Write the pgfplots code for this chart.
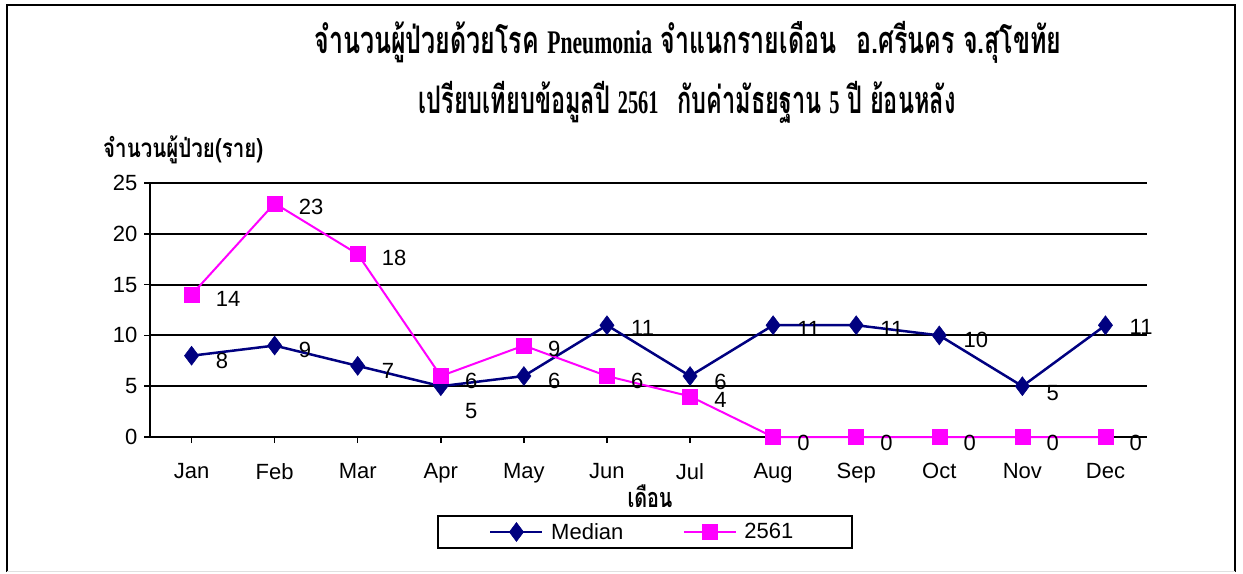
\documentclass[border=0pt]{standalone}
\usepackage{pgfplots}
\usepackage{pgfplotstable}
\pgfplotsset{compat=1.18}
\usepackage{fontspec}
\usepackage{graphicx}
\setmainfont{Liberation Sans}
\newfontfamily\thai[Script=Thai]{Loma}
\newfontfamily\lser{Liberation Serif}
\definecolor{navyc}{RGB}{0,0,128}
\definecolor{pinkc}{RGB}{255,0,255}

\pgfplotstableread{
x y dy
0 8 -5
1 9 -4
2 7 -5
3 5 -25
4 6 -5
5 11 -3
6 6 -6
7 11 -4
8 11 -4
9 10 -5
10 5 -7
11 11 -2
}\median

\pgfplotstableread{
x y dy
0 14 -4
1 23 -4
2 18 -4
3 6 -5
4 9 -3
5 6 -5
6 4 -4
7 0 -6
8 0 -6
9 0 -6
10 0 -6
11 0 -6
}\thisyear

\begin{document}
\begin{tikzpicture}
% page frame (1 px = 1 pt)
\path (0pt,0pt) rectangle (1243pt,572pt);
\draw[black, line width=2.5pt] (7pt,0pt) -- (7pt,567pt) -- (1235pt,567pt) -- (1235pt,0pt);
\draw[black!12, line width=1pt] (7pt,1pt) -- (1235pt,1pt);

% titles
\node[anchor=center, inner sep=0] at (688pt,530pt)
  {\resizebox{747pt}{\height}{\fontsize{38}{42}\selectfont\bfseries
   \thai จำนวนผู้ป่วยด้วยโรค {\lser\fontsize{33}{36}\selectfont Pneumonia} จำแนกรายเดือน\hspace{0.8em}อ.ศรีนคร จ.สุโขทัย}};
\node[anchor=center, inner sep=0] at (687pt,470pt)
  {\resizebox{537pt}{\height}{\fontsize{38}{42}\selectfont\bfseries
   \thai เปรียบเทียบข้อมูลปี {\lser\fontsize{33}{36}\selectfont 2561}\hspace{0.8em}กับค่ามัธยฐาน {\lser\fontsize{33}{36}\selectfont 5} ปี ย้อนหลัง}};
\node[anchor=west, inner sep=0] at (103pt,422pt)
  {\resizebox{160pt}{\height}{\fontsize{26}{30}\selectfont\bfseries\thai จำนวนผู้ป่วย(ราย)}};
\node[anchor=center, inner sep=0] at (650pt,76pt)
  {\resizebox{45pt}{\height}{\fontsize{27}{30}\selectfont\bfseries\thai เดือน}};

\begin{axis}[
  at={(150pt,135pt)}, anchor=south west,
  scale only axis, width=997pt, height=254pt,
  xmin=-0.5, xmax=11.5, ymin=0, ymax=25,
  clip=false,
  axis x line*=bottom, axis y line*=left,
  axis line style={-, black, line width=2pt},
  xtick={0,...,11},
  xticklabels={Jan,Feb,Mar,Apr,May,Jun,Jul,Aug,Sep,Oct,Nov,Dec},
  ytick={0,5,...,25},
  tick align=outside,
  major tick length=6pt,
  tick style={black, line width=1.5pt},
  ymajorgrids,
  grid style={black, line width=2pt},
  /pgf/number format/assume math mode=true,
  tick label style={font=\fontsize{22}{25}\selectfont},
  xticklabel style={yshift=-17pt},
  yticklabel style={xshift=-3pt},
  legend style={at={(0.4965,-0.374)}, anchor=center, legend columns=2,
    draw=black, line width=1.8pt, inner xsep=51pt, inner ysep=5pt,
    font=\fontsize{22}{25}\selectfont,
    nodes={inner xsep=7.5pt},
    /tikz/every even column/.append style={column sep=52pt}},
  legend image code/.code={%
    \draw[mark repeat=2, mark phase=2] plot coordinates {(0pt,0pt) (26pt,0pt) (52pt,0pt)};},
  nodes near coords,
  visualization depends on={\thisrow{dy}\as\dy},
  every node near coord/.append style={anchor=west, inner sep=0pt, xshift=24pt, yshift=\dy pt,
    font=\fontsize{22}{25}\selectfont, black},
]
\addplot[navyc, line width=2.5pt, mark=diamond*, mark size=9.5pt,
  mark options={fill=navyc, draw=navyc, line width=0.5pt}]
  table[x=x, y=y] {\median};
\addlegendentry{Median}
\addplot[pinkc, line width=2pt, mark=square*, mark size=7.5pt,
  mark options={fill=pinkc, draw=pinkc, line width=0.5pt}]
  table[x=x, y=y] {\thisyear};
\addlegendentry{2561}
\end{axis}
\end{tikzpicture}
\end{document}
